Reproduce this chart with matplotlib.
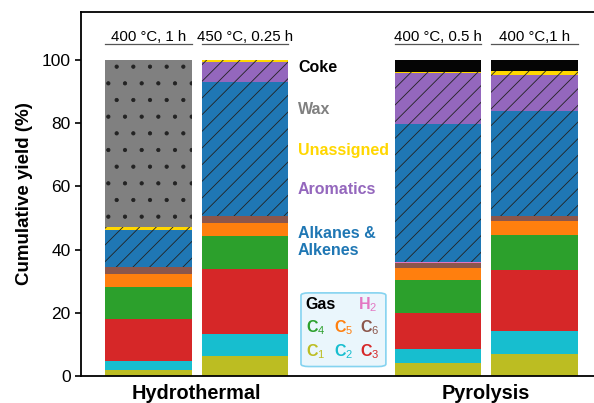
import matplotlib
matplotlib.use("Agg")
import matplotlib.pyplot as plt
from matplotlib.patches import FancyBboxPatch

plt.rcParams['font.family'] = ['Liberation Sans', 'DejaVu Sans']
plt.rcParams['mathtext.fontset'] = 'custom'
plt.rcParams['mathtext.rm'] = 'Liberation Sans'
plt.rcParams['mathtext.bf'] = 'Liberation Sans:bold'
plt.rcParams['hatch.linewidth'] = 0.6

# --- data (cumulative yield contributions, %) ---
conditions = ["400 °C, 1 h", "450 °C, 0.25 h", "400 °C, 0.5 h", "400 °C,1 h"]
groups = ["Hydrothermal", "Pyrolysis"]
positions = [0, 1, 3, 4]

c1 = [1.8, 6.3, 4.2, 7.1]
c2 = [2.9, 7.0, 4.2, 7.0]
c3 = [13.4, 20.6, 11.6, 19.3]
c4 = [10.1, 10.3, 10.3, 11.1]
c5 = [4.2, 4.2, 3.8, 4.4]
c6 = [2.1, 2.1, 1.7, 1.7]
h2 = [0.0, 0.0, 0.3, 0.0]
alkanes = [11.8, 42.6, 43.7, 33.3]
aromatics = [0.0, 6.2, 16.0, 11.4]
unassigned = [0.7, 0.7, 0.3, 1.3]
wax = [53.0, 0.0, 0.0, 0.0]
coke = [0.0, 0.0, 3.9, 3.4]

layers = [
    (c1, "#bcbd22", None),
    (c2, "#17becf", None),
    (c3, "#d62728", None),
    (c4, "#2ca02c", None),
    (c5, "#ff7f0e", None),
    (c6, "#8c564b", None),
    (h2, "#e377c2", None),
    (alkanes, "#1f77b4", "//"),
    (aromatics, "#9467bd", "//"),
    (unassigned, "#ffd700", "//"),
    (wax, "#808080", "."),
    (coke, "#050505", None),
]

fig = plt.figure(figsize=(5.94, 4.03), dpi=100)
ax = fig.add_axes([81 / 594, 27 / 403, 1 - 81 / 594, 364 / 403])

width = 0.9
bottom = [0.0] * len(positions)
for vals, color, hatch in layers:
    ax.bar(positions, vals, width=width, bottom=bottom, color=color,
           edgecolor="#222222" if hatch else color, linewidth=0,
           hatch=hatch, zorder=2)
    bottom = [b + v for b, v in zip(bottom, vals)]

ax.set_xlim(-0.70, 4.617)
ax.set_ylim(0, 115.2)
ax.set_yticks([0, 20, 40, 60, 80, 100])
ax.tick_params(axis='y', labelsize=12.5, width=1.2, length=4, direction='out')
ax.set_xticks([])
ax.spines['right'].set_visible(False)
for s in ['left', 'top', 'bottom']:
    ax.spines[s].set_linewidth(1.3)
ax.set_ylabel("Cumulative yield (%)", fontsize=13.5, fontweight='bold', labelpad=6)

# condition labels with underline
for p, cond in zip(positions, conditions):
    ax.text(p, 105.9, cond, ha='center', va='baseline', fontsize=10.8)
    ax.plot([p - width / 2, p + width / 2], [105.0, 105.0], color='#555555',
            lw=0.9, clip_on=False)

# group labels
ax.text(0.5, -2.6, groups[0], ha='center', va='top', fontsize=14.3,
        fontweight='bold', clip_on=False)
ax.text(3.5, -2.6, groups[1], ha='center', va='top', fontsize=14.3,
        fontweight='bold', clip_on=False)

# liquid / solid legend text
lx = 1.55
ax.text(lx, 97.5, "Coke", color="#000000", fontsize=11.5, fontweight='bold', va='center')
ax.text(lx, 84.2, "Wax", color="#808080", fontsize=11.5, fontweight='bold', va='center')
ax.text(lx, 71.5, "Unassigned", color="#ffd700", fontsize=11.5, fontweight='bold', va='center')
ax.text(lx, 58.9, "Aromatics", color="#9467bd", fontsize=11.5, fontweight='bold', va='center')
ax.text(lx, 42.5, "Alkanes &\nAlkenes", color="#1f77b4", fontsize=11.5, fontweight='bold',
        va='center', linespacing=1.15)

# gas legend box
box = FancyBboxPatch((1.58, 3.0), 0.88, 23.3, boxstyle="round,pad=0,rounding_size=0.08",
                     mutation_aspect=10, facecolor="#eaf6fc", edgecolor="#85d3f0",
                     lw=1.2, zorder=3)
ax.add_patch(box)
ax.text(1.63, 22.6, "Gas", fontsize=11.5, fontweight='bold', va='center', zorder=4)
ax.text(2.17, 22.6, r"$\mathbf{H}_2$", color="#e377c2", fontsize=11.5, va='center', zorder=4)
gas_cols = [1.63, 1.92, 2.19]
row2 = [("4", "#2ca02c"), ("5", "#ff7f0e"), ("6", "#8c564b")]
row3 = [("1", "#bcbd22"), ("2", "#17becf"), ("3", "#d62728")]
for x, (n, col) in zip(gas_cols, row2):
    ax.text(x, 15.4, r"$\mathbf{C}_" + n + "$", color=col, fontsize=11.5, va='center', zorder=4)
for x, (n, col) in zip(gas_cols, row3):
    ax.text(x, 7.6, r"$\mathbf{C}_" + n + "$", color=col, fontsize=11.5, va='center', zorder=4)

fig.savefig("out.png", dpi=100)
